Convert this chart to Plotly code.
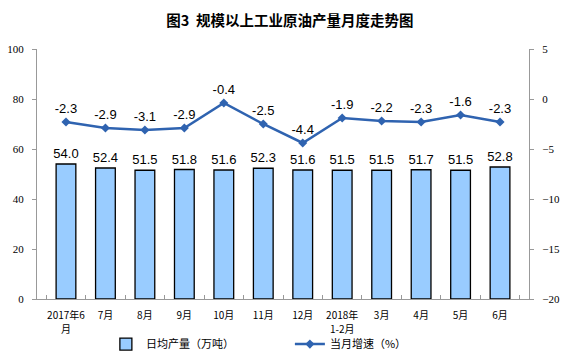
import plotly.graph_objects as go

categories = ["2017年6月", "7月", "8月", "9月", "10月", "11月", "12月",
              "2018年1-2月", "3月", "4月", "5月", "6月"]
tick_line1 = ["2017年6", "7月", "8月", "9月", "10月", "11月", "12月",
              "2018年", "3月", "4月", "5月", "6月"]
tick_line2 = ["月", "", "", "", "", "", "", "1-2月", "", "", "", ""]
daily_output = [54.0, 52.4, 51.5, 51.8, 51.6, 52.3, 51.6, 51.5, 51.5, 51.7, 51.5, 52.8]
growth = [-2.3, -2.9, -3.1, -2.9, -0.4, -2.5, -4.4, -1.9, -2.2, -2.3, -1.6, -2.3]

fig = go.Figure()
fig.add_trace(go.Bar(
    x=categories, y=daily_output, name="日均产量（万吨）", legend="legend",
    marker=dict(color="#99CCFF", line=dict(color="#000000", width=1.3)),
    text=[f"{v:.1f}" for v in daily_output], textposition="outside",
    constraintext="none",
    textfont=dict(family="Liberation Sans, Arial", size=13, color="#000"),
    cliponaxis=False,
))
fig.add_trace(go.Scatter(
    x=categories, y=growth, name="当月增速（%）", yaxis="y2", legend="legend2",
    mode="lines+markers+text",
    line=dict(color="#2F63B0", width=2.5),
    marker=dict(symbol="diamond", size=7, color="#2F63B0"),
    text=[f"{v:.1f}" for v in growth], textposition="top center",
    textfont=dict(family="Liberation Sans, Arial", size=13, color="#000"),
    cliponaxis=False,
))

# second lines of the two-line category labels
for cat, extra in zip(categories, tick_line2):
    if extra:
        fig.add_annotation(x=cat, xref="x", yref="paper", y=-0.116, yanchor="middle",
                           text=extra, showarrow=False,
                           font=dict(family="Noto Sans CJK SC", size=10, color="#000"))

legend_common = dict(orientation="h", xanchor="left", yref="container", y=0.028, yanchor="middle",
                     font=dict(family="Noto Sans CJK SC", size=11, color="#000"),
                     itemwidth=30, bgcolor="rgba(0,0,0,0)")

fig.update_layout(
    width=563, height=354,
    margin=dict(l=37, r=34, t=49, b=55, autoexpand=False),
    paper_bgcolor="white", plot_bgcolor="white",
    title=dict(text="<b>图3  规模以上工业原油产量月度走势图</b>", x=0.515, xanchor="center",
               y=0.94, yanchor="middle",
               font=dict(family="Noto Sans CJK SC", size=14.5, color="#000")),
    bargap=0.5,
    showlegend=True,
    legend=dict(x=0.14, **legend_common),
    legend2=dict(x=0.514, **legend_common),
    xaxis=dict(
        showline=True, linecolor="#999999", linewidth=1,
        ticks="inside", tickson="boundaries", ticklen=4, tickcolor="#999999",
        tickmode="array", tickvals=categories, ticktext=tick_line1,
        tickfont=dict(family="Noto Sans CJK SC", size=10, color="#000"),
        showgrid=False, tickangle=0, automargin=False, ticklabelstandoff=7,
    ),
    yaxis=dict(
        range=[0, 100], dtick=20, showline=True, linecolor="#999999", linewidth=1,
        ticks="outside", ticklen=4, tickcolor="#999999", showgrid=False, zeroline=False,
        tickfont=dict(family="Liberation Serif, Times New Roman", size=11, color="#000"),
        ticklabelstandoff=6, automargin=False,
    ),
    yaxis2=dict(
        range=[-20, 5], dtick=5, overlaying="y", side="right",
        showline=True, linecolor="#999999", linewidth=1,
        ticks="outside", ticklen=4, tickcolor="#999999", showgrid=False, zeroline=False,
        tickfont=dict(family="Liberation Serif, Times New Roman", size=11, color="#000"),
        ticklabelstandoff=6, automargin=False,
    ),
)

fig.write_html("out.html")
